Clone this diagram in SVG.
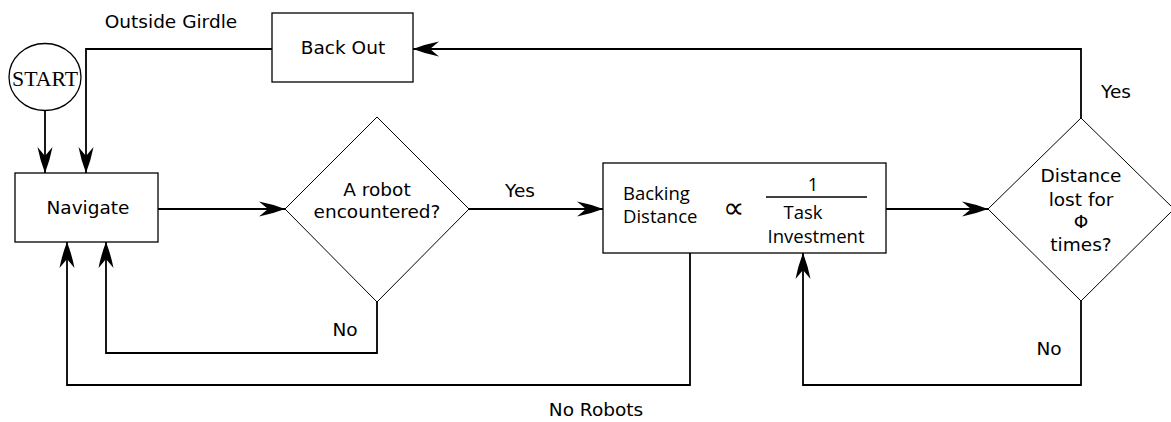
<svg xmlns="http://www.w3.org/2000/svg" width="1171" height="422" viewBox="0 0 1171 422">
<style>
.box{fill:#fff;stroke:#000;stroke-width:1.3}
.dia{fill:#fff;stroke:#000;stroke-width:1}
.ln{fill:none;stroke:#000;stroke-width:1.8}
.t{font-family:"DejaVu Sans",sans-serif;font-size:18.5px;fill:#000}
.b{font-family:"Open Sans","Noto Sans",sans-serif;font-size:18.5px;fill:#000}
.c{text-anchor:middle}
</style>
<defs>
<marker id="ah" markerWidth="28" markerHeight="18" refX="27" refY="9" orient="auto" markerUnits="userSpaceOnUse" viewBox="0 0 28 18">
<path d="M27,9 Q14,4 1,1.5 L10,9 L1,16.5 Q14,14 27,9 Z" fill="#000"/>
</marker>
</defs>
<rect width="1171" height="422" fill="#fff"/>
<g id="connectors">
<path class="ln" d="M45,110 L45,173" marker-end="url(#ah)"/>
<path class="ln" d="M272,49 L86,49 L86,173" marker-end="url(#ah)"/>
<path class="ln" d="M158,209 L285,209" marker-end="url(#ah)"/>
<path class="ln" d="M469,209 L603,209" marker-end="url(#ah)"/>
<path class="ln" d="M886,209 L988,209" marker-end="url(#ah)"/>
<path class="ln" d="M1081,118 L1081,49 L413,49" marker-end="url(#ah)"/>
<path class="ln" d="M1081,301 L1081,385 L803,385 L803,253" marker-end="url(#ah)"/>
<path class="ln" d="M690,253 L690,385 L67,385 L67,242" marker-end="url(#ah)"/>
<path class="ln" d="M377,302 L377,353 L106,353 L106,242" marker-end="url(#ah)"/>
<text class="t c" x="171" y="28">Outside Girdle</text>
<text class="t c" x="520" y="197">Yes</text>
<text class="t c" x="1116" y="98">Yes</text>
<text class="t c" x="1049" y="355">No</text>
<text class="t c" x="345" y="336">No</text>
<text class="t c" x="596" y="416">No Robots</text>
</g>
<g id="start">
<ellipse cx="45" cy="77" rx="36" ry="33.5" fill="#fff" stroke="#000" stroke-width="1.3"/>
<text x="45" y="86" text-anchor="middle" font-family="'Liberation Serif',serif" font-size="22" textLength="66" lengthAdjust="spacingAndGlyphs">START</text>
</g>
<g id="navigate">
<rect class="box" x="15" y="173" width="143" height="69"/>
<text class="t c" x="88" y="214">Navigate</text>
</g>
<g id="backout">
<rect class="box" x="272" y="13" width="141" height="69"/>
<text class="t c" x="343" y="54">Back Out</text>
</g>
<g id="robot-encountered">
<polygon class="dia" points="377,117 469,209 377,302 285,209"/>
<text class="t c" x="377" y="196">A robot</text>
<text class="t c" x="377" y="218">encountered?</text>
</g>
<g id="backing">
<rect class="box" x="603" y="163" width="283" height="90"/>
<text class="b" x="623" y="200">Backing</text>
<text class="b" x="623" y="223">Distance</text>
<text x="733" y="218" text-anchor="middle" font-family="'DejaVu Sans',sans-serif" font-weight="200" font-size="30">∝</text>
<text class="b c" x="813" y="191">1</text>
<line x1="766" y1="197" x2="867" y2="197" stroke="#000" stroke-width="1.3"/>
<text class="b c" x="803" y="219">Task</text>
<text class="b c" x="816" y="243">Investment</text>
</g>
<g id="distance-lost">
<polygon class="dia" points="1081,118 1174,209 1081,301 988,209"/>
<text class="t c" x="1081" y="182">Distance</text>
<text class="t c" x="1081" y="206">lost for</text>
<text class="t c" x="1081" y="228" font-size="21">Φ</text>
<text class="t c" x="1081" y="251">times?</text>
</g>
</svg>
